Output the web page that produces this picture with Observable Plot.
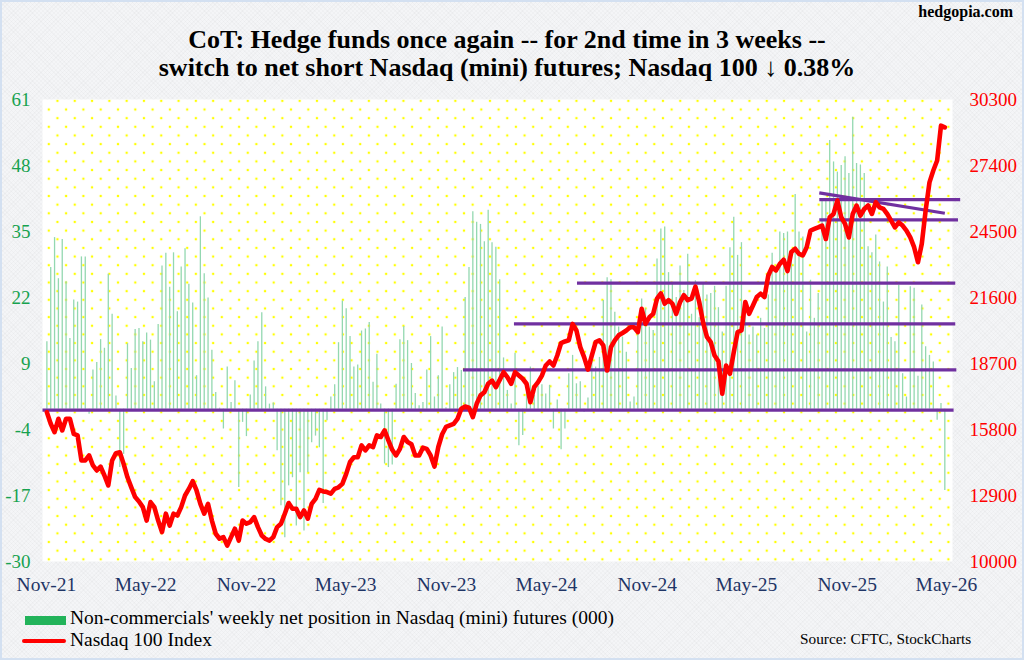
<!DOCTYPE html>
<html><head><meta charset="utf-8">
<script src="https://cdn.jsdelivr.net/npm/d3@7"></script>
<script src="https://cdn.jsdelivr.net/npm/@observablehq/plot@0.6"></script>
<style>
body{margin:0;}
#wrap{position:relative;width:1024px;height:660px;overflow:hidden;background-color:#f4f5f7;
 background-image:repeating-linear-gradient(45deg,rgba(0,0,0,0.018) 0 1px,transparent 1px 3px),repeating-linear-gradient(-45deg,rgba(0,0,0,0.018) 0 1px,transparent 1px 3px);
 font-family:"Liberation Serif","Times New Roman",serif;}
#title{position:relative;height:86px;}
.t{position:absolute;left:0;width:1014px;text-align:center;font-weight:bold;font-size:26px;line-height:28px;color:#000;white-space:nowrap;}
#site{position:absolute;right:11px;top:3px;font-weight:bold;font-size:16px;line-height:18px;}
#chart{height:505px;}
.lg{position:absolute;font-size:19.5px;line-height:20px;color:#000;white-space:nowrap;}
#border{position:absolute;inset:0;border:2px solid #d3e0f1;pointer-events:none;}
</style></head>
<body>
<div id="wrap">
 <div id="title">
  <div id="site">hedgopia.com</div>
  <div class="t" style="top:26px">CoT: Hedge funds once again -- for 2nd time in 3 weeks --</div>
  <div class="t" style="top:54px">switch to net short Nasdaq (mini) futures; Nasdaq 100 ↓ 0.38%</div>
 </div>
 <div id="chart"></div>
 <div style="position:absolute;left:25px;top:616px;width:41px;height:9px;background:#22b35a"></div>
 <div class="lg" style="left:70px;top:608px">Non-commercials' weekly net position in Nasdaq (mini) futures (000)</div>
 <div style="position:absolute;left:22px;top:639px;width:44px;height:4px;background:#ff0000;border-radius:2px"></div>
 <div class="lg" style="left:70px;top:630px">Nasdaq 100 Index</div>
 <div class="lg" style="left:800px;top:631px;font-size:15.3px;line-height:16px">Source: CFTC, StockCharts</div>
 <div id="border"></div>
</div>
<script>
// ---- data ----
const firstWeek = "2021-11-02";
const netPosition = [
 13.3,27.9,33.8,25.7,33.4,25.1,13.9,21.5,21.1,30.0,30.0,-1,7.7,9.2,13.7,12.0,26.6,18.7,2.6,-11.5,
 -8.9,12.9,8.0,15.7,15.9,13.3,15.0,13.6,5.4,16.7,28.2,30.7,24.0,30.8,19.2,28.0,31.6,24.6,20.9,6.6,
 37.9,26.7,21.9,11.6,3.3,0.2,-3.9,8.3,1.3,5.6,-15.4,-2.6,-5.4,2.8,9.5,13.3,19.0,4.4,1.0,
 1.2,-8.2,-19,-25.3,-15.1,-13.5,-23,-12.5,-24,-12.5,-6.6,-5.3,-7.6,-18.6,-2.3,2.4,4.8,13.1,21.3,19.8,
 14.3,8.3,8.7,15.4,15.8,17.1,5.3,10.8,1,-10.8,-11.5,-11,4.9,13.7,16.3,13.5,9,3.1,0.7,1.3,
 7.7,14.3,2.4,6.6,16.2,0.3,4.8,7.2,8.2,7.6,22,27.9,38.9,36.8,36.4,33,39.2,
 32.8,31.9,25.5,10.1,3.7,1,11,-7.2,-5.2,3.3,8.3,2.7,4.5,4.8,3,4.7,-3.9,1.8,-8,-3.9,
 7,10.6,5,5.4,-0.6,2.2,9.9,8.3,10.2,21.4,25.9,25.5,19.1,16.2,14.2,11.2,1.4,2.4,16.2,21.7,
 19.8,16.2,15.5,29.6,35.5,35.9,26.9,24.6,22,28.2,23.4,30.5,18.7,25.3,18,24.6,22.5,22.8,24.2,
 20,15.2,24.2,31.8,37.8,30.3,32.8,20.8,14.6,16.2,14.6,17.9,15.9,22.5,30.7,27.7,34.9,34.6,34.9,30,
 42.3,34.9,33.9,15.2,25.4,17.9,22.8,41.2,41.2,52.9,48.7,46.7,48,49.7,46.4,57.5,48.4,48.1,46.4,32,
 30.8,34.3,29,21.1,28,14.1,13.3,24.4,7,2.4,24.1,23.8,6.5,20.5,12.3,10.6,9.3,-2.2,1.1,-16
];
const nasdaq100 = [
 16560,16050,15680,16270,15760,16270,16270,15610,15540,14440,14440,14660,14220,14000,14170,13780,13340,14440,14760,14800,
 14290,13700,13260,12830,12640,12390,11800,12610,12390,11800,11290,12100,11580,12100,12020,12390,12900,13190,13530,13120,
 12530,12100,12530,11800,11220,11000,11070,10700,11070,11440,10920,11800,11660,11730,11950,11510,11140,10990,10920,
 11070,11510,11660,12100,12570,12320,12320,11950,12240,11880,12530,12750,13150,13080,13050,12980,13190,13260,13410,13850,
 14370,14580,14580,15100,14880,15100,15030,15540,15470,15760,15320,14910,14660,14950,15470,15250,15150,14660,14660,15000,
 14950,14660,14170,15030,15590,15910,15980,16050,16270,16710,16810,16760,16340,16930,17300,17440,17810,
 17950,17660,17980,18320,18100,17810,18320,18170,18030,17810,17000,17660,17880,18170,18610,18790,18610,19050,19600,19670,
 19720,20440,20150,19420,18980,18430,19050,19640,19720,19500,18390,19420,19720,19940,20040,20150,20290,20290,20080,21100,
 20440,20730,20880,21550,21780,21330,21480,21330,20880,21400,21700,21480,21550,22080,21400,20510,19870,19640,19050,
 18800,17370,18610,18250,19200,20080,20150,21400,20880,21250,21620,21770,21620,22570,22940,22790,23080,23260,22760,23600,
 23740,23520,23450,23810,24540,24610,24680,24760,24170,25130,25270,25860,25130,24830,24240,25270,25640,25200,25490,25640,
 25270,25790,25560,25490,25270,24980,24680,24900,24760,24540,24240,23810,23150,23960,25420,26660,27180,27620,29150,29080
];
// purple support / resistance lines (Nasdaq levels)
const lineStart = ["2021-10-25","2023-12-01","2024-03-03","2024-06-26","2025-09-11","2025-09-11","2025-09-11"];
const lineEnd   = ["2026-05-14","2026-05-19","2026-05-17","2026-05-17","2026-05-22","2026-05-26","2026-04-28"];
const lineFrom  = [16650,18420,20440,22230,25010,25900,26200];
const lineTo    = [16650,18420,20440,22230,25010,25900,25300];
// axes
const leftTicks  = [-30,-17,-4,9,22,35,48,61];
const rightTicks = [10000,12900,15800,18700,21600,24500,27400,30300];
const xTickDates = ["2021-11-01","2022-05-01","2022-11-01","2023-05-01","2023-11-01","2024-05-01","2024-11-01","2025-05-01","2025-11-01","2026-05-01"];
const xDomain = ["2021-10-25","2026-05-12"];

// ---- build ----
const L0 = leftTicks[0], L1 = leftTicks[leftTicks.length-1];
const R0 = rightTicks[0], R1 = rightTicks[rightTicks.length-1];
const toLeft = v => L0 + (v - R0) * (L1 - L0) / (R1 - R0);
const fromLeft = v => R0 + (v - L0) * (R1 - R0) / (L1 - L0);
const t0 = Date.parse(firstWeek);
const weeks = netPosition.map((v, i) => ({date: new Date(t0 + i * 7 * 864e5), net: v, ndx: nasdaq100[i]}));
const segs = lineStart.map((s, i) => ({x1: new Date(s), x2: new Date(lineEnd[i]), y1: toLeft(lineFrom[i]), y2: toLeft(lineTo[i])}));

const plot = Plot.plot({
  width: 1024, height: 505,
  marginLeft: 42, marginRight: 72, marginTop: 13, marginBottom: 30,
  style: {fontFamily: '"Liberation Serif","Times New Roman",serif', fontSize: "19px", background: "transparent", overflow: "visible"},
  x: {type: "utc", domain: xDomain.map(d => new Date(d))},
  y: {domain: [L0, L1], nice: false},
  marks: [
    Plot.frame({fill: "url(#ydots)", stroke: "none"}),
    Plot.ruleX(weeks, {x: "date", y1: 0, y2: "net", stroke: "#93d8b0", strokeWidth: 1.3}),
    Plot.link(segs, {x1: "x1", x2: "x2", y1: "y1", y2: "y2", stroke: "#7030a0", strokeWidth: 3.2}),
    Plot.line(weeks, {x: "date", y: d => toLeft(d.ndx), stroke: "#ff0000", strokeWidth: 4.6, strokeLinejoin: "round", strokeLinecap: "round"}),
    Plot.axisY(leftTicks, {anchor: "left", tickSize: 0, tickPadding: 12, color: "#17a24f", fontSize: 19, tickFormat: d => String(d)}),
    Plot.axisY(rightTicks.map(toLeft), {anchor: "right", tickSize: 0, tickPadding: 17, color: "#ff0000", fontSize: 19, tickFormat: d => String(Math.round(fromLeft(d)))}),
    Plot.axisX(xTickDates.map(d => new Date(d)), {anchor: "bottom", tickSize: 0, tickPadding: 16, color: "#1f3566", fontSize: 19.5, tickFormat: d3.utcFormat("%b-%y")})
  ]
});
// dot pattern for plot background
const ns = "http://www.w3.org/2000/svg";
const defs = document.createElementNS(ns, "defs");
defs.innerHTML = '<pattern id="ydots" patternUnits="userSpaceOnUse" x="48.3" y="23" width="17.3" height="17.3">' +
  '<rect x="0" y="0" width="17.3" height="17.3" fill="#ffffff"/>' +
  '<rect x="-1.1" y="-1.1" width="2.2" height="2.2" fill="#ffff00"/>' +
  '<rect x="16.2" y="-1.1" width="2.2" height="2.2" fill="#ffff00"/>' +
  '<rect x="-1.1" y="16.2" width="2.2" height="2.2" fill="#ffff00"/>' +
  '<rect x="16.2" y="16.2" width="2.2" height="2.2" fill="#ffff00"/>' +
  '<rect x="7.55" y="7.55" width="2.2" height="2.2" fill="#ffff00"/></pattern>';
plot.insertBefore(defs, plot.firstChild);
document.getElementById("chart").appendChild(plot);
</script>
</body></html>
